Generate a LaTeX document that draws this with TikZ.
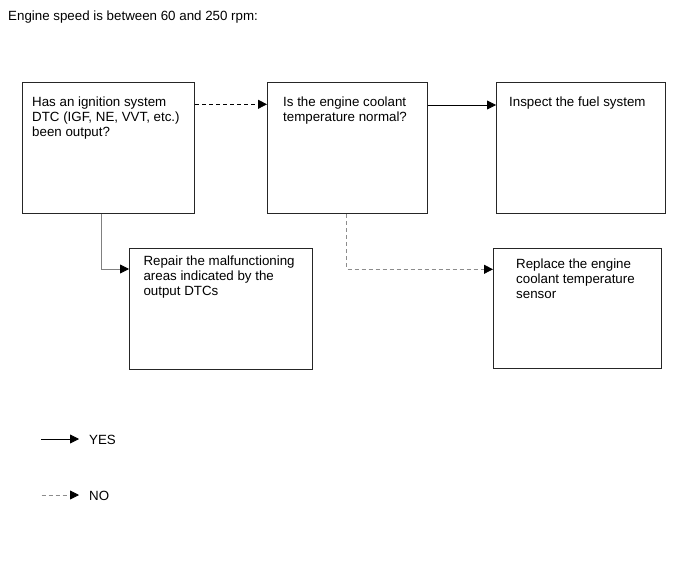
\documentclass[tikz,border=0pt]{standalone}
\usepackage{fontspec}
\setmainfont{Liberation Sans}
\usetikzlibrary{arrows.meta}
\begin{document}
\begin{tikzpicture}[x=1pt,y=-1pt,
  box/.style={draw=black!85, line width=1.3pt, rectangle, inner sep=0pt, anchor=north west},
  txt/.style={anchor=north west, inner sep=0pt, align=left, font=\fontsize{13.33}{15}\selectfont},
  tip/.style={-{Triangle[length=9pt,width=9pt,color=black]}},
  yes/.style={tip, draw=black, line width=0.8pt},
  yesg/.style={tip, draw=black!50, line width=0.8pt},
  no/.style={tip, draw=black, dash pattern=on 4pt off 3pt, line width=0.8pt},
  nog/.style={tip, draw=black!45, dash pattern=on 4pt off 3pt, line width=0.8pt}]
\useasboundingbox[fill=white] (0,0) rectangle (690,564);

\node[txt, anchor=base west] (title) at (8,20.5) {Engine speed is between 60 and 250 rpm:};

\node[box, minimum width=172pt, minimum height=131pt] (b1) at (22,82) {};
\node[box, minimum width=160pt, minimum height=131pt] (b2) at (267,82) {};
\node[box, minimum width=169pt, minimum height=131pt] (b3) at (496,82) {};
\node[box, minimum width=183pt, minimum height=121pt] (b4) at (129,248) {};
\node[box, minimum width=168pt, minimum height=120pt] (b5) at (493,248) {};

\node[txt] (t1) at (32,96) {\strut Has an ignition system\\DTC (IGF, NE, VVT, etc.)\\been output?};
\node[txt] (t2) at (283,96.2) {\strut Is the engine coolant\\temperature normal?};
\node[txt] (t3) at (509,96.2) {\strut Inspect the fuel system};
\node[txt] (t4) at (143.3,255.2) {\strut Repair the malfunctioning\\areas indicated by the\\output DTCs};
\node[txt] (t5) at (516,257.3) {\strut Replace the engine\\coolant temperature\\sensor};

\coordinate (r1) at (0,104.3);
\coordinate (r2) at (0,105);
\coordinate (k1) at (101.7,269);
\coordinate (k2) at (346.7,269.3);
\draw[no] (b1.east |- r1) -- (b2.west |- r1);
\draw[yes] (b2.east |- r2) -- (b3.west |- r2);
\draw[yesg] (b1.south -| k1) |- (b4.west |- k1);
\draw[nog] (b2.south -| k2) |- (b5.west |- k2);

\coordinate (ly1) at (41,439);
\coordinate (ly2) at (79,439);
\coordinate (ln1) at (41.7,495);
\coordinate (ln2) at (79,495);
\draw[yes] (ly1) -- (ly2);
\draw[nog] (ln1) -- (ln2);
\node[txt, anchor=base west] (lyes) at (89,444) {YES};
\node[txt, anchor=base west] (lno) at (89,500) {NO};
\end{tikzpicture}
\end{document}
